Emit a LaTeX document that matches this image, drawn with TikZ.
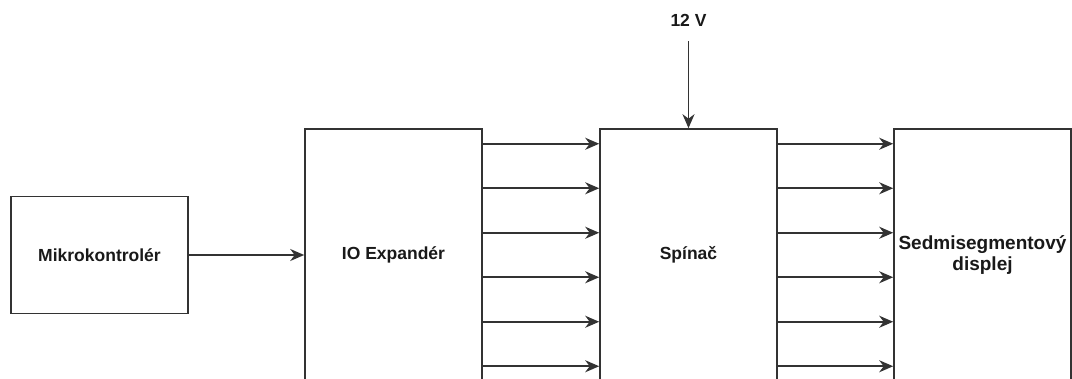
\documentclass[tikz,border=0pt]{standalone}
\usepackage{fontspec}
\setmainfont{Liberation Sans}
\usetikzlibrary{arrows.meta}
\begin{document}
\begin{tikzpicture}[x=1pt,y=-1pt,
  blk/.style={draw=black!80, line width=1.6pt, fill=white, minimum width=177pt, inner sep=0pt, font=\bfseries\fontsize{17.5}{21}\selectfont, align=center, text=black!90},
  arr/.style={draw=black!80, line width=1.6pt, -{Stealth[length=14pt,width=12pt,inset=4.5pt]}},
  lbl/.style={font=\bfseries\fontsize{17.5}{21}\selectfont, text=black!90, inner sep=0pt}]
\useasboundingbox (0,0) rectangle (1072,378);
\clip (0,0) rectangle (1072,378);
\node[blk, minimum height=117pt] (mk) at (99.5,255) {Mikrokontrolér};
\node[blk, minimum height=252pt] (io) at (393.5,255) {IO Expandér};
\node[blk, minimum height=252pt] (sp) at (688.5,255) {Spínač};
\node[blk, minimum height=252pt] (dp) at (982.5,255) {\fontsize{19}{25}\selectfont Sedmisegmentový\\\fontsize{19}{25}\selectfont displej};
\node[lbl] (v12) at (688.5,20) {12 V};
\coordinate (vin) at (688.5,41);
\draw[arr] (vin) -- (sp.north);
\draw[arr] (mk.east) -- (io.west);
\foreach \d in {111.25,66.75,22.25,-22.25,-66.75,-111.25}{
  \draw[arr] ([yshift=\d pt]io.east) -- ([yshift=\d pt]sp.west);
  \draw[arr] ([yshift=\d pt]sp.east) -- ([yshift=\d pt]dp.west);
}
\end{tikzpicture}
\end{document}
